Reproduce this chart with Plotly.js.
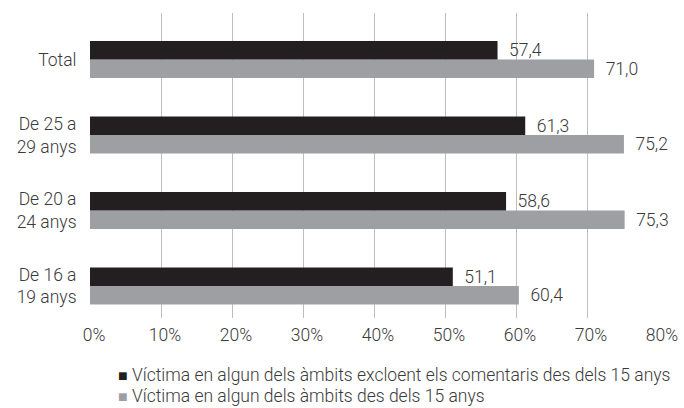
<!DOCTYPE html>
<html>
<head>
<meta charset="utf-8">
<script src="https://cdn.plot.ly/plotly-3.0.1.min.js"></script>
<style>html,body{margin:0;padding:0;background:#fff;}#chart{width:684px;height:408px;}</style>
</head>
<body>
<div id="chart"></div>
<script>
var categories = ["De 16 a<br>19 anys", "De 20 a<br>24 anys", "De 25 a<br>29 anys", "Total"];
var seriesNames = ["Víctima en algun dels àmbits excloent els comentaris des dels 15 anys", "Víctima en algun dels àmbits des dels 15 anys"];
var seriesColors = ["#231f20", "#9d9fa2"];
var excloent = [51.1, 58.6, 61.3, 57.4];
var total15 = [60.4, 75.3, 75.2, 71.0];
var tickVals = [0, 10, 20, 30, 40, 50, 60, 70, 80];
var tickLabels = ["0%", "10%", "20%", "30%", "40%", "50%", "60%", "70%", "80%"];

var FONT = "Roboto, 'Liberation Sans', Arial, sans-serif";
var TXT = "#3a3a3a";
var FS = 17.5;

var traces = [
  {
    type: "bar", orientation: "h", name: seriesNames[1],
    y: categories, x: total15,
    marker: {color: seriesColors[1]},
    text: total15, texttemplate: "\u00a0\u00a0%{x:.1f}", textposition: "outside",
    textfont: {family: FONT, size: FS, color: TXT, weight: 300},
    constraintext: "none", cliponaxis: false, hoverinfo: "skip", showlegend: false
  },
  {
    type: "bar", orientation: "h", name: seriesNames[0],
    y: categories, x: excloent,
    marker: {color: seriesColors[0]},
    text: excloent, texttemplate: "\u00a0\u00a0%{x:.1f}", textposition: "outside",
    textfont: {family: FONT, size: FS, color: TXT, weight: 300},
    constraintext: "none", cliponaxis: false, hoverinfo: "skip", showlegend: false
  }
];

var legendY = [-0.187, -0.256];
var annotations = seriesNames.map(function (name, i) {
  return {
    xref: "paper", yref: "paper", x: 0.048, y: legendY[i],
    xanchor: "left", yanchor: "middle", showarrow: false, borderpad: 0,
    text: "<span style='color:" + seriesColors[i] + ";font-size:16px'>■</span> " + name,
    font: {family: FONT, size: FS, color: TXT, weight: 300}
  };
});

var layout = {
  width: 684, height: 408,
  margin: {l: 89.5, r: 25.5, t: 13, b: 90},
  paper_bgcolor: "#fff", plot_bgcolor: "#fff",
  separators: ",.",
  font: {family: FONT, size: FS, color: TXT, weight: 300},
  barmode: "group", bargap: 0.51, bargroupgap: 0,
  showlegend: false,
  annotations: annotations,
  xaxis: {
    range: [0, 80], tickvals: tickVals, ticktext: tickLabels,
    showgrid: true, gridcolor: "#bcbec0", gridwidth: 1,
    zeroline: false, showline: false,
    ticks: "outside", ticklen: 1, tickcolor: "rgba(0,0,0,0)",
    ticklabelshift: 4, fixedrange: true
  },
  yaxis: {
    type: "category", range: [-0.424, 3.616],
    showgrid: false, zeroline: false, showline: false,
    ticks: "outside", ticklen: 9, tickcolor: "rgba(0,0,0,0)",
    fixedrange: true
  }
};

Plotly.newPlot("chart", traces, layout, {displayModeBar: false, staticPlot: true});
</script>
</body>
</html>
